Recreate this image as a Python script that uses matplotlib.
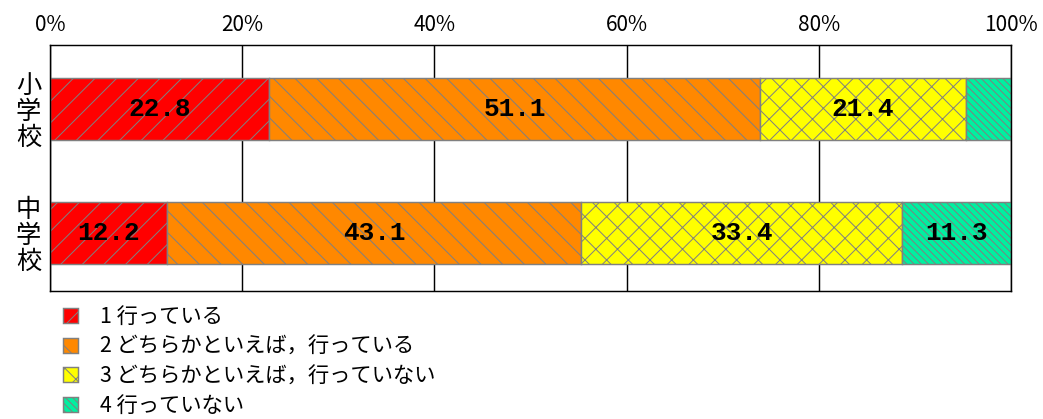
import matplotlib.pyplot as plt
from matplotlib.ticker import PercentFormatter

plt.rcParams['font.family'] = ['Noto Sans CJK JP', 'DejaVu Sans']
plt.rcParams['hatch.linewidth'] = 0.55

schools = ['小学校', '中学校']
answers = ['1 行っている', '2 どちらかといえば，行っている',
           '3 どちらかといえば，行っていない', '4 行っていない']
elementary = [22.8, 51.1, 21.4, 4.7]
junior_high = [12.2, 43.1, 33.4, 11.3]
x_ticks = [0, 20, 40, 60, 80, 100]

colors = ['#FF0000', '#FF8800', '#FFFF00', '#00F0A0']
hatches = ['//', '\\\\', 'xx', '\\\\\\\\\\\\']

DPI = 130
fig = plt.figure(figsize=(1043 / DPI, 419 / DPI), dpi=DPI)
ax = fig.add_axes([50 / 1043, 1 - 291 / 419, 961 / 1043, 246 / 419])

rows = [elementary, junior_high]
ypos = list(range(len(schools)))
left = [0.0] * len(schools)
for i in range(len(answers)):
    vals = [r[i] for r in rows]
    ax.barh(ypos, vals, left=left, height=0.5, color=colors[i],
            edgecolor='#808080', linewidth=0.8, hatch=hatches[i],
            label=answers[i], zorder=2)
    for y, v, l in zip(ypos, vals, left):
        if v >= 10:
            ax.text(l + v / 2, y, f'{v:.1f}', ha='center', va='center',
                    family='Liberation Mono', fontweight='bold', fontsize=14.5,
                    zorder=3)
    left = [l + v for l, v in zip(left, vals)]

ax.set_xlim(0, 100)
ax.set_ylim(1.465, -0.515)
ax.set_xticks(x_ticks)
ax.xaxis.set_major_formatter(PercentFormatter(decimals=0))
ax.xaxis.tick_top()
ax.tick_params(axis='x', length=0, pad=5, labelsize=11.5)
ax.grid(axis='x', color='black', linewidth=0.8)
ax.set_axisbelow(True)

ax.set_yticks(ypos)
ax.set_yticklabels(['\n'.join(s) for s in schools], fontsize=14,
                   linespacing=1.0)
ax.tick_params(axis='y', length=0, pad=5)

for sp in ax.spines.values():
    sp.set_color('black')
    sp.set_linewidth(0.8)

fig.legend(loc='upper left', bbox_to_anchor=(63 / 1043, 1 - 306 / 419),
           frameon=False, fontsize=11.8, handlelength=0.72, handleheight=0.72,
           handletextpad=1.0, labelspacing=0.36, borderpad=0, borderaxespad=0)

fig.savefig('out.png', dpi=DPI)
